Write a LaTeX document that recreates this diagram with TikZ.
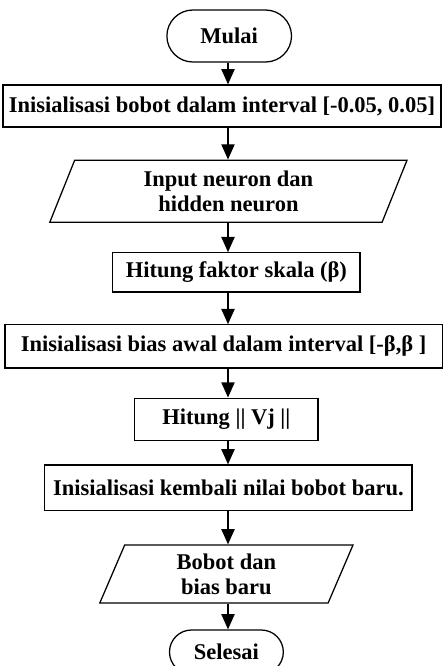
\documentclass[tikz,border=0pt]{standalone}
\usepackage{fontspec}
\setmainfont{Liberation Serif}
\usetikzlibrary{shapes.geometric,shapes.misc,arrows.meta}

\tikzset{
  terminal/.style={draw, rounded rectangle, line width=0.9pt},
  process/.style={draw, rectangle, line width=0.9pt, inner sep=2pt},
  io/.style={draw, trapezium, trapezium left angle=62, trapezium right angle=118,
    trapezium stretches body, align=center, line width=0.9pt, inner sep=2pt},
  flow/.style={line width=0.9pt, -{Triangle[length=0.38cm, width=0.33cm]}}
}

\begin{document}
\begin{tikzpicture}[font=\fontsize{16}{18}\selectfont\bfseries]

\useasboundingbox (0,0) rectangle (11.075,-16.65);

% Steps
\node[terminal, minimum width=3.35cm, minimum height=1.3cm] (mulai) at (5.73,-0.9) {Mulai};
\node[process, minimum width=10.95cm, minimum height=1.05cm] (init) at (5.55,-2.65) {Inisialisasi bobot dalam interval [-0.05, 0.05]};
\node[io, minimum width=8.93cm, minimum height=1.55cm] (input) at (5.71,-4.78) {Input neuron dan\\hidden neuron};
\node[process, minimum width=6.18cm, minimum height=0.98cm] (skala) at (5.91,-6.81) {Hitung faktor skala (β)};
\node[process, minimum width=10.93cm, minimum height=1.08cm] (bias) at (5.59,-8.66) {Inisialisasi bias awal dalam interval [-β,β ]};
\node[process, minimum width=4.58cm, minimum height=1.05cm] (norm) at (5.66,-10.48) {Hitung || Vj ||};
\node[process, minimum width=9.18cm, minimum height=1.13cm] (kembali) at (5.71,-12.19) {Inisialisasi kembali nilai bobot baru.};
\node[io, minimum width=6.33cm, minimum height=1.45cm] (output) at (5.66,-14.35) {Bobot dan\\bias baru};
\node[terminal, minimum width=3.08cm, minimum height=1.1cm] (selesai) at (5.66,-16.3) {Selesai};

% Arrows
\coordinate (axis) at (5.7,0);
\draw[flow] (mulai.south -| axis) -- (init.north -| axis);
\draw[flow] (init.south -| axis) -- (input.north -| axis);
\draw[flow] (input.south -| axis) -- (skala.north -| axis);
\draw[flow] (skala.south -| axis) -- (bias.north -| axis);
\draw[flow] (bias.south -| axis) -- (norm.north -| axis);
\draw[flow] (norm.south -| axis) -- (kembali.north -| axis);
\draw[flow] (kembali.south -| axis) -- (output.north -| axis);
\draw[flow] (output.south -| axis) -- (selesai.north -| axis);

\end{tikzpicture}
\end{document}
